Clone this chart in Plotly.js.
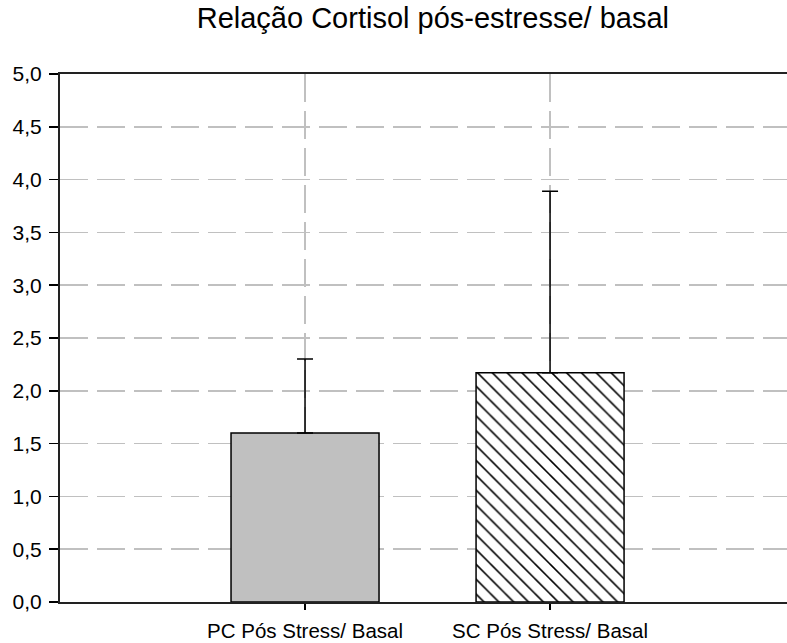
<!DOCTYPE html>
<html>
<head>
<meta charset="utf-8">
<script src="https://cdn.plot.ly/plotly-3.0.1.min.js"></script>
<style>html,body{margin:0;padding:0;background:#fff;}#chart{width:787px;height:643px;}</style>
</head>
<body>
<div id="chart"></div>
<script>
const categories = ["PC Pós Stress/ Basal", "SC Pós Stress/ Basal"];
const means = [1.60, 2.17];
const errors = [0.70, 1.72];
const tickVals = [0, 0.5, 1, 1.5, 2, 2.5, 3, 3.5, 4, 4.5, 5];

const pc = {
  type: "bar",
  x: [0],
  y: [means[0]],
  width: 0.604,
  marker: {color: "#c0c0c0", line: {color: "#000", width: 1.5}},
  error_y: {type: "data", symmetric: false, array: [errors[0]], arrayminus: [0], color: "#000", thickness: 1.5, width: 8},
  hoverinfo: "none"
};
const sc = {
  type: "bar",
  x: [1],
  y: [means[1]],
  width: 0.604,
  marker: {color: "#ffffff", line: {color: "#000", width: 1.5},
           pattern: {shape: "\\", size: 10.5, solidity: 0.15, fgcolor: "#000", bgcolor: "#ffffff"}},
  error_y: {type: "data", symmetric: false, array: [errors[1]], arrayminus: [0], color: "#000", thickness: 1.5, width: 8},
  hoverinfo: "none"
};

const layout = {
  width: 787, height: 643,
  margin: {l: 60, r: 0, t: 74, b: 41},
  paper_bgcolor: "#fff", plot_bgcolor: "#fff",
  separators: ",.",
  showlegend: false,
  barmode: "overlay",
  font: {family: "Liberation Sans, Arial, sans-serif", color: "#000"},
  title: {text: "Relação Cortisol pós-estresse/ basal", font: {size: 29, color: "#000"}, x: 0.55, xanchor: "center", y: 0.972, yanchor: "middle"},
  xaxis: {
    range: [-1, 1.967],
    tickmode: "array", tickvals: [0, 1], ticktext: categories,
    tickfont: {size: 20.5},
    ticks: "outside", ticklen: 6, tickcolor: "#000", tickwidth: 1.5,
    ticklabelstandoff: 3,
    showline: true, linecolor: "#222", linewidth: 2, mirror: true,
    showgrid: true, gridcolor: "#c0c0c0", gridwidth: 1.5, griddash: "28px,9px",
    zeroline: false, fixedrange: true
  },
  yaxis: {
    range: [0, 5],
    tickmode: "array", tickvals: tickVals, tickformat: ".1f",
    tickfont: {size: 21},
    ticks: "outside", ticklen: 9, tickcolor: "#000", tickwidth: 1.5,
    ticklabelstandoff: 3,
    showline: true, linecolor: "#222", linewidth: 2, mirror: false,
    showgrid: true, gridcolor: "#c0c0c0", gridwidth: 1.5, griddash: "28px,9px",
    zeroline: false, fixedrange: true
  }
};

Plotly.newPlot("chart", [pc, sc], layout, {staticPlot: true, displayModeBar: false});
</script>
</body>
</html>
